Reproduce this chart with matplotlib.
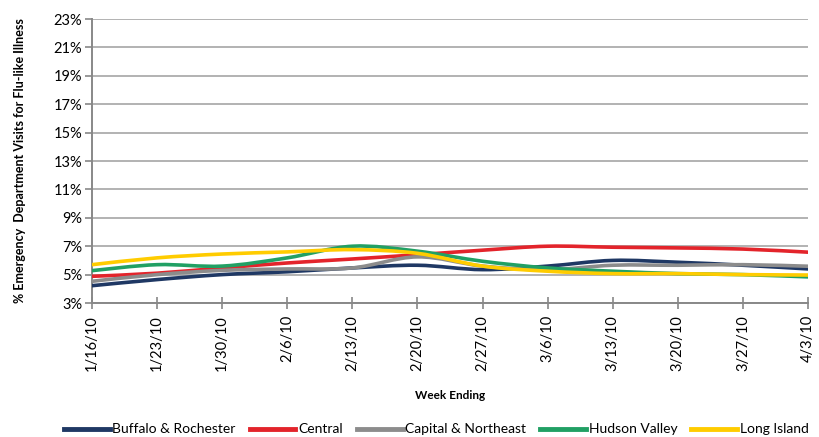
import numpy as np
import matplotlib
matplotlib.use("Agg")
import matplotlib.pyplot as plt
from matplotlib.path import Path
from matplotlib.patches import PathPatch
from matplotlib.lines import Line2D
from matplotlib.ticker import FuncFormatter

plt.rcParams["font.family"] = ["Lato", "DejaVu Sans"]

weeks = ["1/16/10", "1/23/10", "1/30/10", "2/6/10", "2/13/10", "2/20/10",
         "2/27/10", "3/6/10", "3/13/10", "3/20/10", "3/27/10", "4/3/10"]

buffalo = [4.22, 4.65, 5.0, 5.2, 5.47, 5.66, 5.35, 5.6, 6.0, 5.87, 5.66, 5.4]
central = [4.88, 5.1, 5.47, 5.82, 6.1, 6.4, 6.72, 7.0, 6.93, 6.88, 6.8, 6.58]
capital = [4.53, 5.0, 5.3, 5.4, 5.47, 6.25, 5.6, 5.35, 5.66, 5.66, 5.7, 5.59]
hudson = [5.28, 5.7, 5.6, 6.18, 7.0, 6.65, 5.94, 5.47, 5.24, 5.07, 5.0, 4.84]
long_island = [5.7, 6.18, 6.45, 6.6, 6.76, 6.5, 5.6, 5.24, 5.07, 5.07, 5.0, 4.97]

series_names = ["Buffalo & Rochester", "Central", "Capital & Northeast",
                "Hudson Valley", "Long Island"]
series_values = [buffalo, central, capital, hudson, long_island]
colors = ["#1F3864", "#E3242B", "#8C8C8C", "#21A064", "#FFCC00"]


def smooth_path(xs, ys):
    """
    Build a smoothed bezier path through the points (Excel style)
    """

    pts = np.column_stack([xs, ys]).astype(float)
    n = len(pts)
    verts = [pts[0]]
    codes = [Path.MOVETO]

    for i in range(n - 1):
        p0 = pts[i - 1] if i > 0 else pts[i]
        p1 = pts[i]
        p2 = pts[i + 1]
        p3 = pts[i + 2] if i + 2 < n else pts[i + 1]
        c1 = p1 + (p2 - p0) / 6.0
        c2 = p2 - (p3 - p1) / 6.0
        verts.extend([c1, c2, p2])
        codes.extend([Path.CURVE4] * 3)

    return Path(verts, codes)


fig = plt.figure(figsize=(8.2, 4.37), dpi=100)
ax = fig.add_axes([0.1122, 0.3066, 0.8732, 0.6499])

x = np.arange(len(weeks))

for name, vals, col in zip(series_names, series_values, colors):
    patch = PathPatch(
        smooth_path(x, vals),
        facecolor="none",
        edgecolor=col,
        lw=2.6,
        capstyle="round",
        zorder=3
    )
    ax.add_patch(patch)

ax.set_xlim(0, len(weeks) - 1)
ax.set_ylim(3, 23)
ax.set_yticks(np.arange(3, 24, 2))
ax.yaxis.set_major_formatter(FuncFormatter(lambda v, p: f"{v:.0f}%"))
ax.set_xticks(x)
ax.set_xticklabels(weeks, rotation=90, fontsize=10.5)
ax.tick_params(axis="y", labelsize=10.5, length=5, color="#888888",
               width=1.2, pad=2)
ax.tick_params(axis="x", direction="inout", length=9, color="#888888",
               width=1.2, pad=4)

ax.grid(axis="y", color="#A6A6A6", lw=1.2, zorder=0)
for s in ["top", "right"]:
    ax.spines[s].set_visible(False)
for s in ["left", "bottom"]:
    ax.spines[s].set_color("#888888")
    ax.spines[s].set_linewidth(1.4)

ax.set_xlabel("Week Ending", fontsize=8.5, fontweight="bold", labelpad=14)
ax.set_ylabel("% Emergency  Department Visits for Flu-like Illness",
              fontsize=9, fontweight="bold", labelpad=20)

handles = [Line2D([], [], color=c, lw=3.5) for c in colors]
fig.legend(
    handles,
    series_names,
    loc="lower center",
    bbox_to_anchor=(0.532, -0.025),
    ncol=5,
    frameon=False,
    fontsize=10,
    handlelength=3.3,
    handletextpad=0.2,
    columnspacing=1.0
)

fig.savefig("out.png", dpi=100)
